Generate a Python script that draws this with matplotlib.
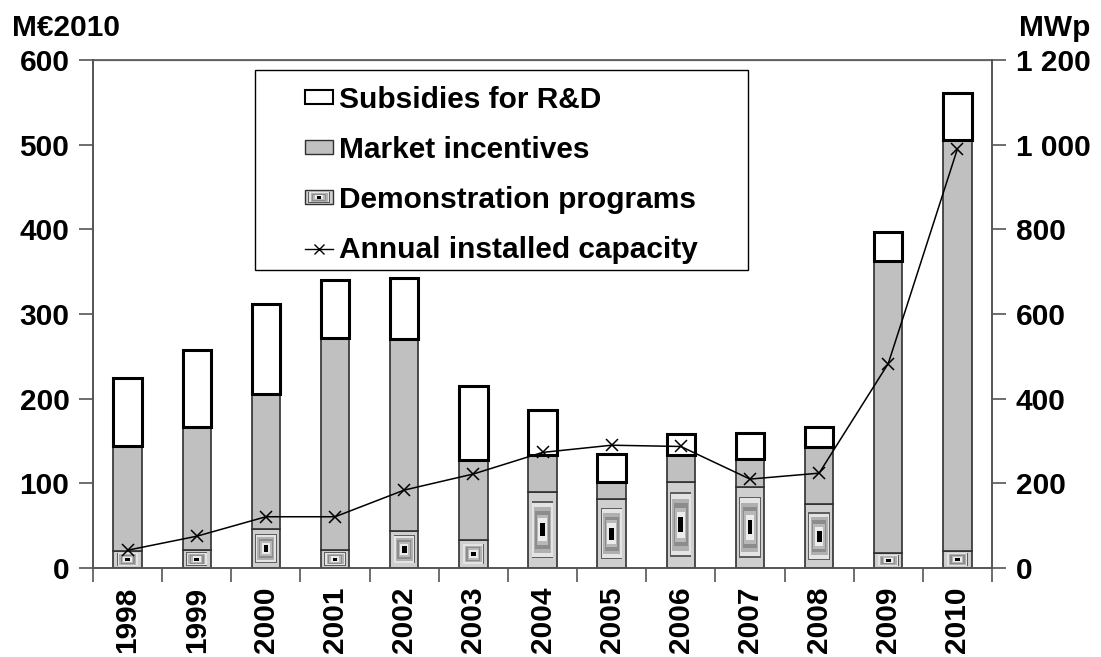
import matplotlib
matplotlib.use("Agg")
import matplotlib.pyplot as plt
from matplotlib.patches import Rectangle
from matplotlib.legend_handler import HandlerBase
from matplotlib.lines import Line2D
import numpy as np

plt.rcParams['font.family'] = ['Liberation Sans', 'DejaVu Sans']
plt.rcParams['font.weight'] = 'bold'

years = ['1998', '1999', '2000', '2001', '2002', '2003', '2004', '2005',
         '2006', '2007', '2008', '2009', '2010']
demonstration = [20, 21, 46, 21, 44, 33, 90, 81, 102, 96, 75, 18, 20]
market_total = [144, 167, 206, 272, 270, 127, 133, 102, 133, 129, 143, 363, 506]
total = [224, 258, 312, 340, 343, 215, 187, 135, 158, 160, 166, 397, 561]
capacity = [42, 75, 121, 121, 184, 222, 273, 290, 287, 210, 224, 483, 990]

left_ticks = [0, 100, 200, 300, 400, 500, 600]
right_ticks = [0, 200, 400, 600, 800, 1000, 1200]
right_labels = ['0', '200', '400', '600', '800', '1 000', '1 200']

demo_arr = np.array(demonstration, float)
market_arr = np.array(market_total, float) - demo_arr
rd_arr = np.array(total, float) - np.array(market_total, float)

# concentric band style for the "demonstration" fill
band_frac = [1.0, 0.75, 0.71, 0.60, 0.50, 0.40, 0.30, 0.17]
band_col = ['#cfcfcf', '#5e5e5e', '#e4e4e4', '#b0b0b0', '#8c8c8c', '#b8b8b8', '#ececec', '#000000']

FS = 21.5

fig = plt.figure(figsize=(11.01, 6.57), dpi=100)
ax = fig.add_axes([0.0845, 0.1355, 0.8165, 0.7732])
ax2 = ax.twinx()

x = np.arange(len(years))
w = 0.41
spine_col = '#555555'

def draw_bands(a, x0, y0, wd, ht, z):
    cx, cy = x0 + wd / 2, y0 + ht / 2
    for f, c in zip(band_frac, band_col):
        a.add_patch(Rectangle((cx - f * wd / 2, cy - f * ht / 2), f * wd, f * ht,
                              facecolor=c, edgecolor='none', zorder=z))

for xi, d in zip(x, demo_arr):
    draw_bands(ax, xi - w / 2, 0, w, d, 2)
ax.bar(x, demo_arr, w, facecolor='none', edgecolor='#303030', linewidth=1.2, zorder=3)
ax.bar(x, market_arr, w, bottom=demo_arr, facecolor='#c0c0c0', edgecolor='#303030',
       linewidth=1.2, zorder=3)
ax.bar(x, rd_arr, w, bottom=demo_arr + market_arr, facecolor='white', edgecolor='black',
       linewidth=2.2, zorder=3)

ax2.plot(x, capacity, color='black', lw=1.1, marker='x', markersize=8, mew=1.1, zorder=5)

ax.set_xlim(-0.5, len(years) - 0.5)
ax.set_ylim(0, 600)
ax2.set_ylim(0, 1200)
ax.set_yticks(left_ticks)
ax.set_yticklabels([str(t) for t in left_ticks])
ax2.set_yticks(right_ticks)
ax2.set_yticklabels(right_labels)

ax.set_xticks(x)
ax.set_xticklabels(years, rotation=90, fontsize=FS, fontweight='bold')
ax.set_xticks(np.arange(len(years) + 1) - 0.5, minor=True)
ax.tick_params(axis='x', which='major', length=0, pad=13.5)
ax.tick_params(axis='x', which='minor', length=10, width=1.2, color=spine_col, direction='out')
ax.tick_params(axis='y', length=10, width=1.2, color=spine_col, labelsize=FS, pad=7)
ax2.tick_params(axis='y', length=10, width=1.2, color=spine_col, labelsize=FS, pad=7)
for a in (ax, ax2):
    for s in a.spines.values():
        s.set_color(spine_col)
        s.set_linewidth(1.2)
ax.spines['top'].set_color('#999999')
ax.spines['top'].set_linewidth(1.0)
for lbl in ax.get_yticklabels() + ax2.get_yticklabels():
    lbl.set_fontweight('bold')

fig.text(0.011, 0.958, 'M€2010', fontsize=FS, fontweight='bold', ha='left', va='center')
fig.text(0.990, 0.958, 'MWp', fontsize=FS, fontweight='bold', ha='right', va='center')

# legend
class BandHandler(HandlerBase):
    def create_artists(self, legend, orig_handle, xdescent, ydescent, width, height, fontsize, trans):
        arts = [Rectangle((-xdescent, -ydescent), width, height, facecolor='none',
                          edgecolor='#303030', lw=1.0, transform=trans)]
        cx, cy = -xdescent + width / 2, -ydescent + height / 2
        rects = []
        for f, c in zip(band_frac, band_col):
            rects.append(Rectangle((cx - f * width / 2, cy - f * height / 2), f * width, f * height,
                                   facecolor=c, edgecolor='none', transform=trans))
        return rects + arts

rd_h = Rectangle((0, 0), 1, 1, facecolor='white', edgecolor='black', lw=1.5)
mk_h = Rectangle((0, 0), 1, 1, facecolor='#c0c0c0', edgecolor='#303030', lw=1.0)
dm_h = Rectangle((0, 0), 1, 1)
ln_h = Line2D([], [], color='black', lw=1.0, marker='x', markersize=7, mew=1.0)

box = Rectangle((0.18, 0.587), 0.5486, 0.393, transform=ax2.transAxes, facecolor='white',
                edgecolor='black', lw=1.0, zorder=6)
ax2.add_patch(box)
leg = ax2.legend([rd_h, mk_h, dm_h, ln_h],
                 ['Subsidies for R&D', 'Market incentives', 'Demonstration programs',
                  'Annual installed capacity'],
                 handler_map={dm_h: BandHandler()},
                 loc='center', bbox_to_anchor=(0.18 + 0.5486 / 2, 0.587 + 0.393 / 2 - 0.01),
                 bbox_transform=ax2.transAxes, frameon=False,
                 prop={'size': FS, 'weight': 'bold'},
                 handlelength=0.95, handleheight=0.34, handletextpad=0.2,
                 labelspacing=0.74, borderpad=0.2)
leg.set_zorder(7)

fig.savefig('out.png', dpi=100)
